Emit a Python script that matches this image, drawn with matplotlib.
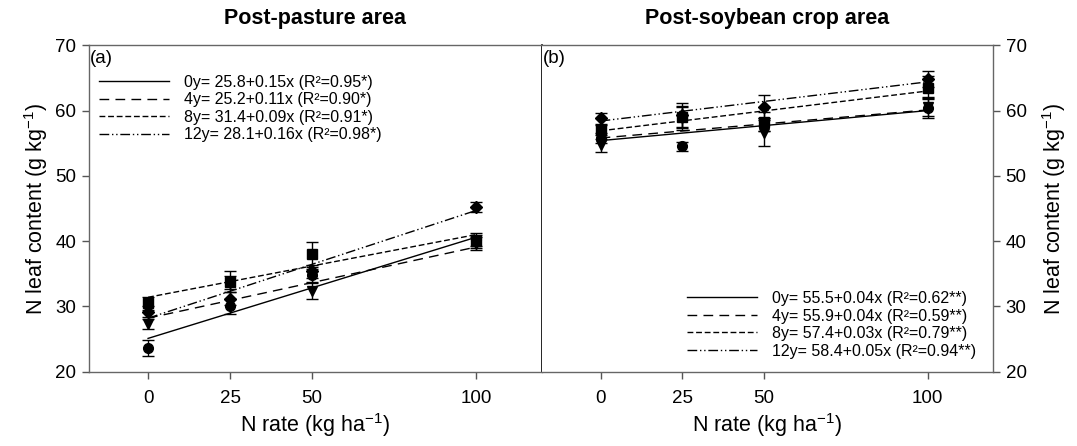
import matplotlib
matplotlib.use("Agg")
import matplotlib.pyplot as plt
from matplotlib.lines import Line2D
import numpy as np

plt.rcParams['font.family'] = ['Liberation Sans', 'DejaVu Sans']
plt.rcParams['mathtext.fontset'] = 'custom'
plt.rcParams['mathtext.rm'] = 'Liberation Sans'
plt.rcParams['mathtext.it'] = 'Liberation Sans:italic'
plt.rcParams['mathtext.bf'] = 'Liberation Sans:bold'

# ---------------- data ----------------
n_rate = [0, 25, 50, 100]
years = ['0y', '4y', '8y', '12y']

# Post-pasture area (a): mean N leaf content per age
pasture_0y = [23.6, 30.0, 34.8, 40.2]
pasture_4y = [27.3, 33.6, 32.4, 39.6]
pasture_8y = [30.5, 33.8, 38.0, 40.0]
pasture_12y = [29.2, 31.2, 35.4, 45.2]
pasture_err_0y = [1.2, 1.2, 1.0, 1.0]
pasture_err_4y = [0.8, 1.0, 1.2, 1.0]
pasture_err_8y = [1.0, 1.6, 1.9, 1.0]
pasture_err_12y = [0.8, 1.0, 1.0, 0.8]
# regression line values at N = 0 and N = 100
pasture_fit_0 = [25.1, 28.2, 31.4, 28.2]
pasture_fit_100 = [40.6, 39.1, 41.0, 44.7]
pasture_labels = ['0y= 25.8+0.15x (R\u00b2=0.95*)',
                  '4y= 25.2+0.11x (R\u00b2=0.90*)',
                  '8y= 31.4+0.09x (R\u00b2=0.91*)',
                  '12y= 28.1+0.16x (R\u00b2=0.98*)']

# Post-soybean crop area (b)
soy_0y = [55.8, 54.5, 57.8, 60.4]
soy_4y = [54.7, 58.9, 56.5, 60.6]
soy_8y = [57.0, 59.0, 58.3, 63.5]
soy_12y = [58.8, 59.3, 60.6, 64.8]
soy_err_0y = [0.8, 0.7, 1.0, 1.5]
soy_err_4y = [1.0, 1.8, 2.0, 1.5]
soy_err_8y = [0.8, 1.6, 1.5, 1.8]
soy_err_12y = [0.8, 1.8, 1.8, 1.2]
soy_fit_0 = [55.4, 55.8, 56.9, 58.4]
soy_fit_100 = [60.0, 60.1, 63.0, 64.4]
soy_labels = ['0y= 55.5+0.04x (R\u00b2=0.62**)',
              '4y= 55.9+0.04x (R\u00b2=0.59**)',
              '8y= 57.4+0.03x (R\u00b2=0.79**)',
              '12y= 58.4+0.05x (R\u00b2=0.94**)']

# ---------------- styles ----------------
markers = ['o', 'v', 's', 'D']
msizes = [7, 7, 6.5, 6]
dashes = [(None), (7, 4.5), (4.2, 2.0), (7, 2, 1, 2, 1, 2)]

W, H = 1077, 446
fig = plt.figure(figsize=(W / 100, H / 100), dpi=100)
ax1 = fig.add_axes([89 / W, (H - 371.7) / H, 452.7 / W, 326.4 / H])
ax2 = fig.add_axes([541.7 / W, (H - 371.7) / H, 451.3 / W, 326.4 / H])


def draw(ax, series, errs, fit0, fit100, labels):
    handles = []
    for i, (vals, err) in enumerate(zip(series, errs)):
        ls = '-' if dashes[i] is None else (0, dashes[i])
        ax.plot([0, 100], [fit0[i], fit100[i]], color='black', lw=1.0,
                linestyle=ls, zorder=2)
        ax.errorbar(n_rate, vals, yerr=err, fmt=markers[i], ms=msizes[i],
                    color='black', ecolor='black', elinewidth=1.0,
                    capsize=4, capthick=1.0, zorder=3)
        handles.append(Line2D([0], [0], color='black', lw=1.0, linestyle=ls))
    return handles


h1 = draw(ax1, [pasture_0y, pasture_4y, pasture_8y, pasture_12y],
          [pasture_err_0y, pasture_err_4y, pasture_err_8y, pasture_err_12y],
          pasture_fit_0, pasture_fit_100, pasture_labels)
h2 = draw(ax2, [soy_0y, soy_4y, soy_8y, soy_12y],
          [soy_err_0y, soy_err_4y, soy_err_8y, soy_err_12y],
          soy_fit_0, soy_fit_100, soy_labels)

for ax in (ax1, ax2):
    ax.set_xlim(-18, 120)
    ax.set_ylim(20, 70)
    ax.set_xticks(n_rate)
    ax.set_yticks(range(20, 71, 10))
    ax.tick_params(direction='out', length=5, width=1, labelsize=13.5,
                   color='#555555', pad=4)
    for s in ax.spines.values():
        s.set_color('#666666')
        s.set_linewidth(1.0)
    ax.set_xlabel('N rate (kg ha$^{-1}$)', fontsize=15.5, labelpad=3)
    ax.tick_params(axis='x', pad=8)

ax1.spines['right'].set_color('black')
ax1.spines['right'].set_linewidth(1.2)
ax2.spines['left'].set_visible(False)
ax1.tick_params(axis='y', right=False)
ax2.tick_params(axis='y', left=False, right=True, labelleft=False,
                labelright=True)
ax1.set_ylabel('N leaf content (g kg$^{-1}$)', fontsize=15.5, labelpad=4)
ax2.yaxis.set_label_position('right')
ax2.set_ylabel('N leaf content (g kg$^{-1}$)', fontsize=15.5, labelpad=10,
               rotation=90)

ax1.set_title('Post-pasture area', fontsize=15.5, fontweight='bold', pad=15)
ax2.set_title('Post-soybean crop area', fontsize=15.5, fontweight='bold',
              pad=15)

ax1.text(0.003, 0.985, '(a)', transform=ax1.transAxes, ha='left', va='top',
         fontsize=13.5)
ax2.text(0.003, 0.985, '(b)', transform=ax2.transAxes, ha='left', va='top',
         fontsize=13.5)

leg_kw = dict(frameon=False, fontsize=11.5, handlelength=4.4,
              handletextpad=0.95, labelspacing=0.16, borderpad=0,
              borderaxespad=0)
ax1.legend(h1, pasture_labels, loc='upper left',
           bbox_to_anchor=(0.022, 0.91), **leg_kw)
ax2.legend(h2, soy_labels, loc='lower left',
           bbox_to_anchor=(0.322, 0.04), **leg_kw)

fig.savefig('out.png', dpi=100)
